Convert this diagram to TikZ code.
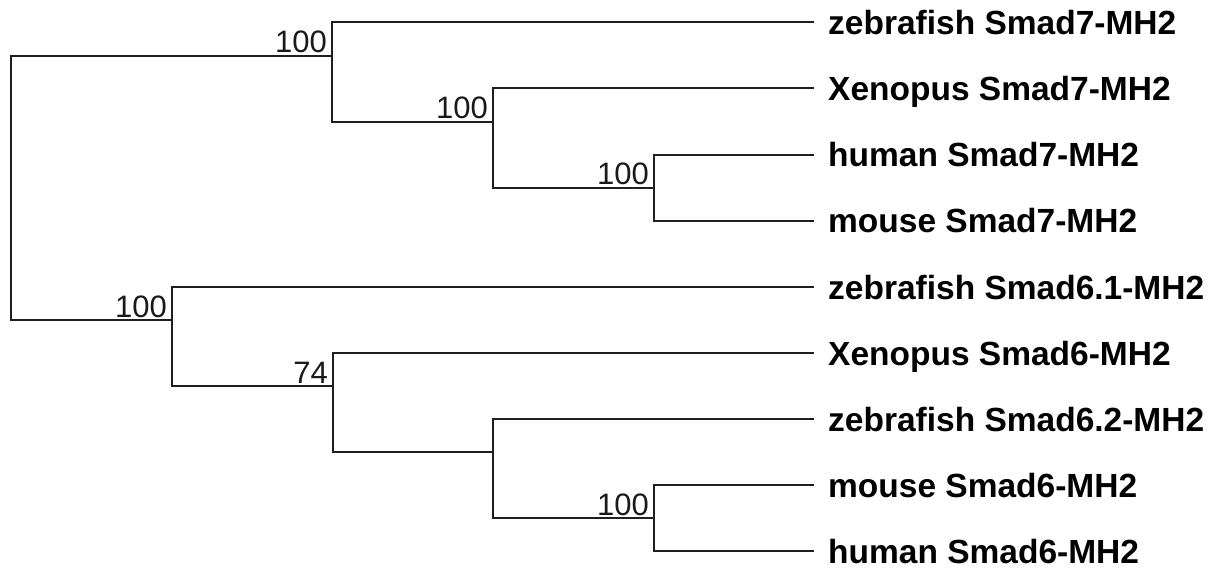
\documentclass[tikz,border=0pt]{standalone}
\usepackage{fontspec}
\setmainfont{Liberation Sans}
\begin{document}
\begin{tikzpicture}[x=1pt,y=-1pt,
  branch/.style={line width=2pt,draw=black!88,line cap=rect},
  taxon/.style={anchor=west,inner xsep=15pt,inner ysep=0pt,font=\fontsize{33.5}{36}\selectfont\bfseries,text height=24pt,text depth=0pt},
  boot/.style={anchor=base east,inner sep=0pt,font=\fontsize{31}{33}\selectfont,text=black!90}]
\useasboundingbox (0,0) rectangle (1214,567);

% internal nodes (position where the parent branch joins)
\coordinate (root) at (11,188);
\coordinate (A) at (332,56);
\coordinate (B) at (493,122);
\coordinate (C) at (654,188);
\coordinate (D) at (172,320);
\coordinate (E) at (333,386);
\coordinate (F) at (493,452);
\coordinate (G) at (654,518);

% taxa
\node[taxon] (t1) at (813,22.5) {zebrafish Smad7-MH2};
\node[taxon] (t2) at (813,88.5) {Xenopus Smad7-MH2};
\node[taxon] (t3) at (813,154.5) {human Smad7-MH2};
\node[taxon] (t4) at (813,220.5) {mouse Smad7-MH2};
\node[taxon] (t5) at (813,287) {zebrafish Smad6.1-MH2};
\node[taxon] (t6) at (813,353) {Xenopus Smad6-MH2};
\node[taxon] (t7) at (813,419) {zebrafish Smad6.2-MH2};
\node[taxon] (t8) at (813,485) {mouse Smad6-MH2};
\node[taxon] (t9) at (813,551) {human Smad6-MH2};

% branches
\draw[branch] (root) |- (A);
\draw[branch] (root) |- (D);
\draw[branch] (A) |- (t1.west);
\draw[branch] (A) |- (B);
\draw[branch] (B) |- (t2.west);
\draw[branch] (B) |- (C);
\draw[branch] (C) |- (t3.west);
\draw[branch] (C) |- (t4.west);
\draw[branch] (D) |- (t5.west);
\draw[branch] (D) |- (E);
\draw[branch] (E) |- (t6.west);
\draw[branch] (E) |- (F);
\draw[branch] (F) |- (t7.west);
\draw[branch] (F) |- (G);
\draw[branch] (G) |- (t8.west);
\draw[branch] (G) |- (t9.west);

% bootstrap support
\node[boot] (bA) at ([xshift=-5pt,yshift=3pt]A) {100};
\node[boot] (bB) at ([xshift=-5pt,yshift=4pt]B) {100};
\node[boot] (bC) at ([xshift=-5pt,yshift=4pt]C) {100};
\node[boot] (bD) at ([xshift=-5pt,yshift=3pt]D) {100};
\node[boot] (bE) at ([xshift=-5pt,yshift=3pt]E) {74};
\node[boot] (bG) at ([xshift=-5pt,yshift=3pt]G) {100};
\end{tikzpicture}
\end{document}
